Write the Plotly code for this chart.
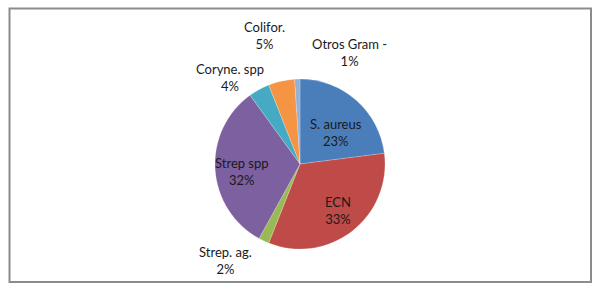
import plotly.graph_objects as go

labels = ["S. aureus", "ECN", "Strep. ag.", "Strep spp", "Coryne. spp", "Colifor.", "Otros Gram -"]
values = [23, 33, 2, 32, 4, 5, 1]
colors = ["#4A7EBB", "#BE4B48", "#98B954", "#7D60A0", "#46AAC5", "#F59443", "#93B1D6"]

# label anchor positions in pixels (x, y from top) on the 600x292 canvas
label_pos = [(336, 133), (338, 210), (225, 260), (242, 171), (230, 78), (264, 35), (349, 53)]

W, H = 600, 292
fig = go.Figure()
fig.add_trace(go.Pie(
    labels=labels, values=values, sort=False, direction="clockwise", rotation=0,
    marker=dict(colors=colors, line=dict(color="rgba(255,255,255,0.4)", width=0.5)),
    textinfo="none", hoverinfo="label+percent", showlegend=False,
    domain=dict(x=[0, 1], y=[(H - 249) / H, (H - 79) / H]),
))

total = sum(values)
for lab, val, (px, py) in zip(labels, values, label_pos):
    fig.add_annotation(
        x=px / W, y=1 - py / H, xref="paper", yref="paper",
        text=f"{lab}<br>{round(100 * val / total)}%", showarrow=False,
        font=dict(family="Lato", size=13, color="#1a1a1a"),
        align="center", xanchor="center", yanchor="middle",
    )

fig.add_shape(type="rect", xref="paper", yref="paper",
              x0=9.5 / W, x1=591 / W, y0=1 - 282 / H, y1=1 - 8.5 / H,
              line=dict(color="#8C8C8C", width=2))

fig.update_layout(width=W, height=H, margin=dict(l=0, r=0, t=0, b=0),
                  paper_bgcolor="white", plot_bgcolor="white")
fig.write_html("out.html")
